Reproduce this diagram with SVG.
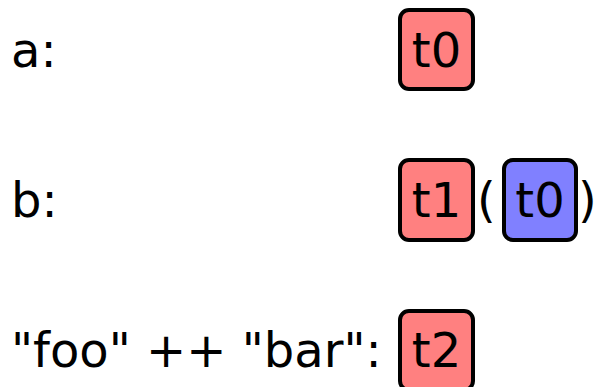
<svg xmlns="http://www.w3.org/2000/svg" width="597" height="387" viewBox="0 0 597 387">
<style>
text{font-family:"DejaVu Sans",sans-serif;font-size:48px;fill:#000}
.box{stroke:#000;stroke-width:4}
.red{fill:#ff8080}
.blue{fill:#8080ff}
.c{text-anchor:middle}
</style>
<rect width="597" height="387" fill="#fff"/>
<g id="label-a"><text x="11" y="67">a:</text></g>
<g id="node-a-t0"><rect class="box red" x="400" y="10" width="73" height="79" rx="9"/><text class="c" x="436.5" y="67">t0</text></g>
<g id="label-b"><text x="11" y="217">b:</text></g>
<g id="node-b-t1"><rect class="box red" x="400" y="160" width="73" height="80" rx="9"/><text class="c" x="436.5" y="217">t1</text></g>
<g id="paren-open"><text x="477" y="217">(</text></g>
<g id="node-b-t0"><rect class="box blue" x="504" y="160" width="72" height="80" rx="9"/><text class="c" x="540" y="217">t0</text></g>
<g id="paren-close"><text x="578" y="217">)</text></g>
<g id="label-c"><text x="11" y="367">"foo" ++ "bar":</text></g>
<g id="node-c-t2"><rect class="box red" x="400" y="311" width="73" height="79" rx="9"/><text class="c" x="436.5" y="367">t2</text></g>
<g id="connectors"></g>
</svg>
